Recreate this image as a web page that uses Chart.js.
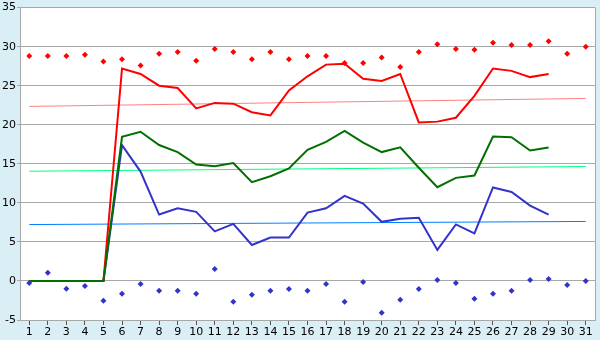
<!DOCTYPE html>
<html>
<head>
<meta charset="utf-8">
<script src="https://cdn.jsdelivr.net/npm/chart.js@4/dist/chart.umd.min.js"></script>
<style>
html,body{margin:0;padding:0;background:#daeef5;}
#wrap{width:600px;height:340px;position:relative;}
</style>
</head>
<body>
<div id="wrap"><canvas id="c" width="600" height="340"></canvas></div>
<script>
const days = ['1','2','3','4','5','6','7','8','9','10','11','12','13','14','15','16','17','18','19','20','21','22','23','24','25','26','27','28','29','30','31'];
const yTicks = [-5,0,5,10,15,20,25,30,35];

const maxPoints = [28.8,28.8,28.8,28.95,28.1,28.4,27.6,29.1,29.3,28.2,29.7,29.3,28.4,29.3,28.4,28.8,28.8,27.9,27.9,28.6,27.4,29.3,30.3,29.7,29.6,30.5,30.2,30.2,30.7,29.1,30.0];
const minPoints = [-0.25,1.05,-1.0,-0.65,-2.55,-1.65,-0.4,-1.27,-1.27,-1.65,1.52,-2.67,-1.78,-1.27,-1.02,-1.27,-0.38,-2.67,-0.13,-4.06,-2.41,-1.02,0.13,-0.25,-2.29,-1.65,-1.27,0.13,0.25,-0.51,0.0];
const redLine = [0,0,0,0,0,27.2,26.5,25.0,24.7,22.1,22.8,22.7,21.6,21.2,24.4,26.2,27.7,27.8,25.9,25.6,26.5,20.3,20.4,20.9,23.7,27.2,26.9,26.1,26.5,null,null];
const greenLine = [0,0,0,0,0,18.45,19.1,17.4,16.5,14.9,14.7,15.1,12.65,13.4,14.4,16.8,17.8,19.2,17.7,16.5,17.1,14.5,12.0,13.2,13.5,18.5,18.4,16.7,17.1,null,null];
const blueLine = [0,0,0,0,0,17.4,14.0,8.5,9.3,8.85,6.35,7.3,4.6,5.55,5.55,8.75,9.3,10.9,9.9,7.57,7.95,8.08,3.97,7.24,6.1,11.97,11.4,9.65,8.5,null,null];
const redTrend = [22.35, 23.37];
const greenTrend = [14.05, 14.65];
const blueTrend = [7.22, 7.62];

const trendData = (t) => [{x: days[0], y: t[0]}, {x: days[days.length-1], y: t[1]}];

const bgPlugin = {
  id: 'bg',
  beforeDraw(chart) {
    const {ctx, chartArea: a} = chart;
    ctx.save();
    ctx.fillStyle = '#daeef5';
    ctx.fillRect(0, 0, chart.width, chart.height);
    ctx.fillStyle = '#ffffff';
    ctx.fillRect(a.left, a.top, a.right - a.left, a.bottom - a.top);
    ctx.restore();
  },
  afterDraw(chart) {
    const {ctx, chartArea: a} = chart;
    ctx.save();
    ctx.strokeStyle = '#a8a8a8';
    ctx.lineWidth = 1;
    ctx.beginPath();
    ctx.moveTo(a.right + 0.5, a.top);
    ctx.lineTo(a.right + 0.5, a.bottom);
    ctx.stroke();
    ctx.restore();
  }
};

const font = {family: '"DejaVu Sans", Verdana, sans-serif', size: 11};

new Chart(document.getElementById('c'), {
  type: 'line',
  data: {
    labels: days,
    datasets: [
      {label: 'max', data: maxPoints, showLine: false, pointStyle: 'rectRot', pointRadius: 3, pointBackgroundColor: '#ff0000', pointBorderColor: '#ff0000', pointBorderWidth: 0, borderColor: '#ff0000', order: 1},
      {label: 'min', data: minPoints, showLine: false, pointStyle: 'rectRot', pointRadius: 3, pointBackgroundColor: '#3333cc', pointBorderColor: '#3333cc', pointBorderWidth: 0, borderColor: '#3333cc', order: 1},
      {label: 'green', data: greenLine, borderColor: '#007000', borderWidth: 2, pointRadius: 0, tension: 0, order: 2},
      {label: 'red', data: redLine, borderColor: '#ff0000', borderWidth: 2, pointRadius: 0, tension: 0, order: 3},
      {label: 'blue', data: blueLine, borderColor: '#3333cc', borderWidth: 2, pointRadius: 0, tension: 0, order: 4},
      {label: 'redTrend', data: trendData(redTrend), borderColor: '#ff8080', borderWidth: 1, pointRadius: 0, order: 5},
      {label: 'greenTrend', data: trendData(greenTrend), borderColor: '#00ff80', borderWidth: 1, pointRadius: 0, order: 5},
      {label: 'blueTrend', data: trendData(blueTrend), borderColor: '#0080ff', borderWidth: 1, pointRadius: 0, order: 5}
    ]
  },
  options: {
    responsive: false,
    animation: false,
    events: [],
    layout: {padding: {top: 5, right: 5, left: 0, bottom: 0}},
    plugins: {legend: {display: false}, tooltip: {enabled: false}},
    scales: {
      x: {
        type: 'category',
        offset: true,
        grid: {display: true, drawOnChartArea: false, drawTicks: true, tickLength: 5, color: '#555555', offset: false},
        border: {display: true, color: '#a8a8a8'},
        ticks: {color: '#000000', font: font, padding: 1, maxRotation: 0, autoSkip: false},
        afterFit(s) { s.height = 20; }
      },
      y: {
        min: -5, max: 35,
        afterBuildTicks(s) { s.ticks = yTicks.map(v => ({value: v})); },
        grid: {color: '#a8a8a8', tickLength: 3, lineWidth: 1},
        border: {display: true, color: '#a8a8a8'},
        ticks: {color: '#000000', font: font, padding: 1},
        afterFit(s) { s.width = 20; }
      }
    }
  },
  plugins: [bgPlugin]
});
</script>
</body>
</html>
